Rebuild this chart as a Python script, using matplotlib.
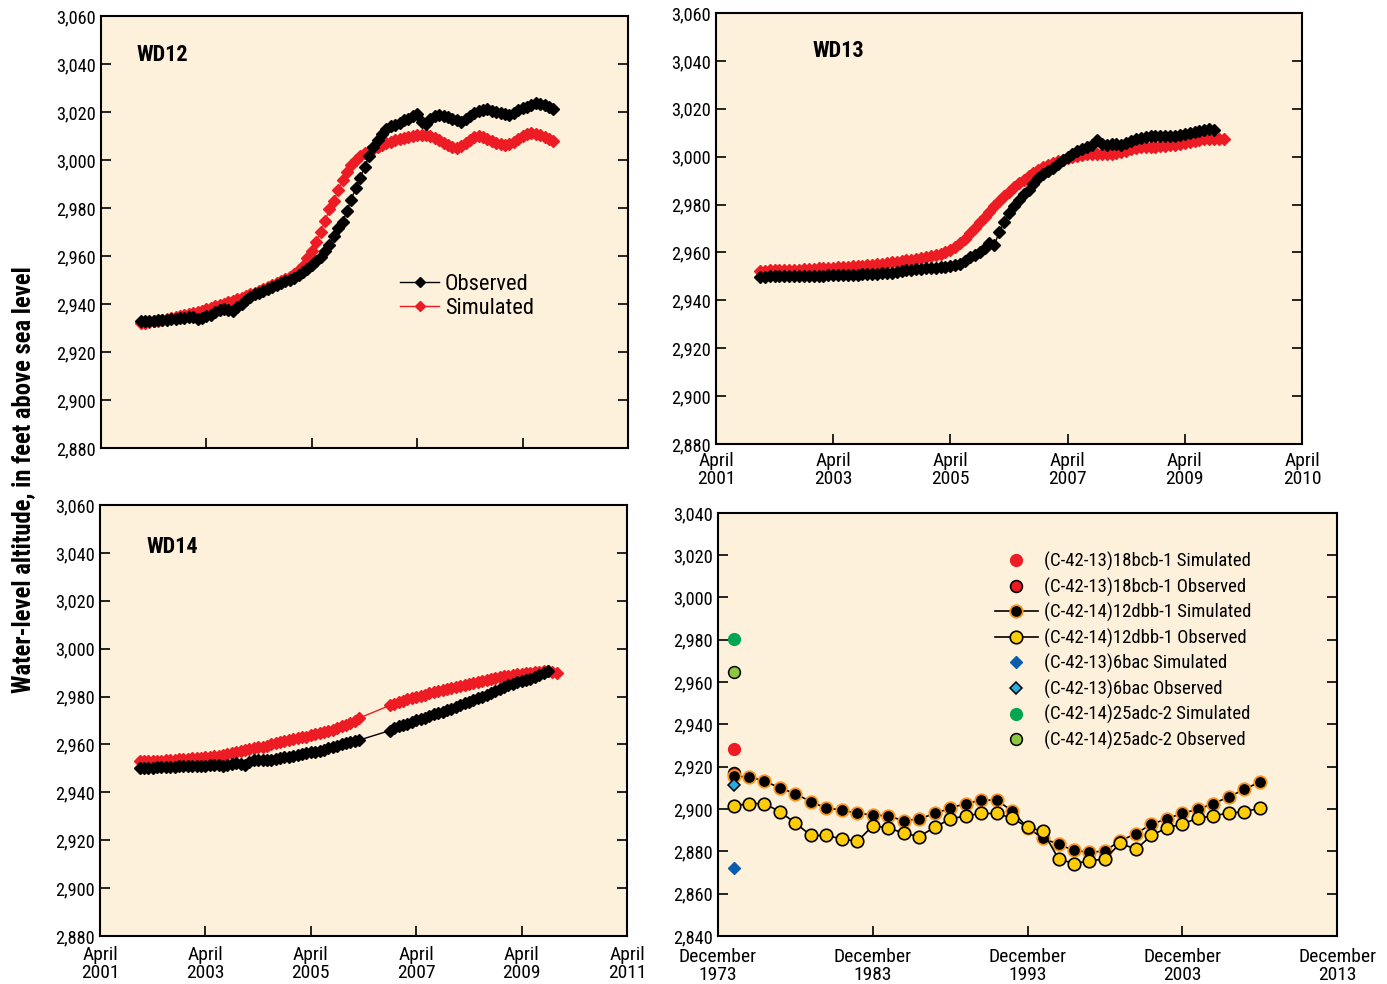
import matplotlib.pyplot as plt
from matplotlib import font_manager

# pick a narrow sans face if one is installed (the original uses a condensed face)
_names = sorted({f.name for f in font_manager.fontManager.ttflist})
_pref = ['Liberation Sans Narrow', 'Roboto Condensed', 'DejaVu Sans Condensed',
         'Open Sans Condensed', 'Noto Sans Condensed']
_narrow = [n for n in _pref if n in _names] + \
          [n for n in _names if ('Narrow' in n or 'Condensed' in n) and n not in _pref]
_cond_dejavu = any(f.name == 'DejaVu Sans' and str(f.stretch) in ('condensed', '500')
                   and 'Condensed' in f.fname for f in font_manager.fontManager.ttflist)
if _narrow:
    FONT = _narrow[0]
    SCALE = 1.0
elif _cond_dejavu:
    FONT = 'DejaVu Sans'
    plt.rcParams['font.stretch'] = 'condensed'
    SCALE = 0.92
else:
    FONT = 'Liberation Sans'
    SCALE = 0.9
plt.rcParams['font.family'] = [FONT, 'DejaVu Sans']

BG = '#fef1db'
RED = '#ed1c24'

# ---- data: monthly water levels, month 0 = January 2002 ----
wd12_obs = [2932.9, 2933.0, 2933.0, 2933.1, 2933.2, 2933.3, 2933.5, 2933.6, 2933.8, 2934.0,
            2934.3, 2934.6, 2934.4, 2933.8, 2934.2, 2935.0, 2935.6, 2936.8, 2937.6, 2937.8,
            2937.4, 2937.0, 2938.6, 2940.2, 2941.5, 2943.0, 2944.0, 2944.8, 2945.5, 2946.2,
            2947.0, 2948.0, 2948.8, 2949.6, 2950.2, 2951.0, 2952.2, 2953.4, 2954.8, 2956.2,
            2957.8, 2959.6, 2962.0, 2964.8, 2968.2, 2971.5, 2974.0, 2978.8, 2983.5, 2988.5,
            2992.5, 2997.0, 3001.5, 3005.5, 3008.5, 3011.0, 3012.8, 3014.0, 3014.8, 3015.6,
            3016.5, 3017.3, 3018.2, 3019.0, 3016.0, 3015.2, 3017.0, 3018.4, 3018.9, 3018.3,
            3017.9, 3017.2, 3016.5, 3015.9, 3017.0, 3018.5, 3019.6, 3020.4, 3021.0, 3021.3,
            3020.6, 3019.9, 3019.4, 3019.2, 3018.9, 3019.8, 3020.8, 3021.6, 3022.3, 3023.0,
            3023.6, 3023.2, 3022.8, 3022.0, 3021.4]
wd12_sim = [2931.9, 2932.2, 2932.5, 2932.8, 2933.1, 2933.4, 2933.7, 2934.1, 2934.5, 2934.9,
            2935.4, 2935.8, 2936.3, 2936.7, 2937.2, 2937.8, 2938.4, 2939.0, 2939.6, 2940.2,
            2940.8, 2941.4, 2942.0, 2942.6, 2943.3, 2944.0, 2944.8, 2945.6, 2946.4, 2947.2,
            2948.0, 2948.8, 2949.6, 2950.4, 2951.3, 2952.5, 2954.0, 2956.0, 2959.0, 2962.0,
            2966.0, 2970.0, 2974.5, 2979.5, 2983.0, 2987.5, 2991.5, 2995.0, 2998.0, 3000.0,
            3001.6, 3002.8, 3003.7, 3004.5, 3005.5, 3006.2, 3007.0, 3007.6, 3008.2, 3008.7,
            3009.1, 3009.5, 3009.9, 3010.4, 3010.5, 3010.3, 3010.0, 3009.2, 3008.2, 3007.2,
            3006.2, 3005.4, 3005.2, 3006.0, 3007.2, 3008.4, 3009.4, 3009.9, 3009.6, 3008.8,
            3008.0, 3007.2, 3006.6, 3006.2, 3006.6, 3007.6, 3008.8, 3010.0, 3010.8, 3011.2,
            3011.0, 3010.4, 3009.8, 3008.8, 3008.0]
wd12_months = list(range(95))

wd13_obs = [2949.6, 2949.8, 2950.0, 2950.0, 2950.0, 2950.0, 2950.0, 2950.1, 2950.1, 2950.1,
            2950.1, 2950.1, 2950.1, 2950.3, 2950.5, 2950.7, 2950.7, 2950.7, 2950.7, 2950.7,
            2950.7, 2950.8, 2950.8, 2950.8, 2951.0, 2951.2, 2951.3, 2951.6, 2952.0, 2952.4,
            2952.5, 2952.7, 2952.9, 2953.2, 2953.5, 2953.6, 2953.7, 2953.9, 2954.1, 2954.3,
            2954.6, 2955.2, 2956.5, 2958.0, 2959.0, 2960.0, 2962.0, 2964.0, 2963.0, 2968.5,
            2972.5, 2976.5, 2979.5, 2982.0, 2984.3, 2986.2, 2988.6, 2990.9, 2992.6, 2994.0,
            2995.3, 2996.8, 2998.5, 3000.0, 3001.3, 3002.3, 3003.2, 3004.0, 3004.8, 3006.8,
            3005.4, 3005.0, 3005.3, 3005.2, 3005.0, 3005.8, 3006.5, 3007.2, 3007.8, 3008.2,
            3008.5, 3008.6, 3008.6, 3008.5, 3008.6, 3008.8, 3009.0, 3009.3, 3009.8, 3010.4,
            3010.8, 3011.2, 3011.4, 3011.0]
wd13_obs_months = list(range(94))
wd13_sim = [2952.4, 2952.4, 2952.5, 2952.5, 2952.6, 2952.6, 2952.7, 2952.8, 2952.8, 2952.9,
            2953.0, 2953.2, 2953.3, 2953.4, 2953.5, 2953.7, 2953.8, 2953.9, 2954.0, 2954.2,
            2954.3, 2954.5, 2954.7, 2954.8, 2955.0, 2955.3, 2955.5, 2955.8, 2956.1, 2956.4,
            2956.7, 2957.0, 2957.4, 2957.7, 2958.0, 2958.3, 2958.8, 2959.4, 2960.2, 2961.0,
            2962.2, 2963.8, 2965.8, 2968.0, 2970.4, 2972.8, 2974.6, 2977.0, 2979.5, 2981.5,
            2983.7, 2985.4, 2987.3, 2989.0, 2990.4, 2991.8, 2993.0, 2994.3, 2995.6, 2996.6,
            2997.5, 2998.1, 2998.8, 2999.4, 2999.9, 3000.3, 3000.8, 3001.0, 3001.2, 3001.3,
            3001.3, 3001.3, 3001.3, 3001.5, 3001.9, 3002.3, 3003.0, 3003.7, 3004.0, 3004.0,
            3004.0, 3004.1, 3004.3, 3004.5, 3004.7, 3005.0, 3005.4, 3005.8, 3006.2, 3006.6,
            3006.9, 3007.2, 3007.3, 3007.4, 3007.5, 3007.5]
wd13_sim_months = list(range(96))

# WD14 has no readings for months 51-56
wd14_obs = [2950.2, 2950.2, 2950.3, 2950.3, 2950.4, 2950.4, 2950.5, 2950.5, 2950.7, 2950.8,
            2951.0, 2951.0, 2951.0, 2951.0, 2951.0, 2951.1, 2951.2, 2951.4, 2951.5, 2950.8,
            2951.4, 2952.0, 2952.1, 2952.0, 2951.6, 2952.8, 2953.3, 2953.3, 2953.3, 2953.3,
            2953.6, 2953.9, 2954.3, 2954.6, 2954.9, 2955.3, 2955.7, 2956.1, 2956.4, 2956.7,
            2957.0, 2957.3, 2957.8, 2958.4, 2959.0, 2959.5, 2960.1, 2960.7, 2961.2, 2961.6,
            2961.8,
            2965.8, 2966.7, 2967.5, 2968.1, 2968.7, 2969.4, 2970.0, 2970.6, 2971.2, 2971.9,
            2972.5, 2973.1, 2973.7, 2974.4, 2975.0, 2975.7, 2976.4, 2977.1, 2977.8, 2978.5,
            2979.2, 2979.9, 2980.7, 2981.6, 2982.4, 2983.3, 2984.0, 2984.7, 2985.4, 2986.0,
            2986.6, 2987.0, 2987.5, 2988.1, 2989.2, 2990.0, 2990.8]
wd14_obs_months = list(range(51)) + list(range(57, 94))
wd14_sim = [2953.0, 2953.0, 2953.1, 2953.1, 2953.2, 2953.2, 2953.3, 2953.4, 2953.6, 2953.8,
            2954.0, 2954.1, 2954.2, 2954.4, 2954.5, 2954.7, 2954.9, 2955.1, 2955.3, 2955.6,
            2956.0, 2956.4, 2956.8, 2957.2, 2957.6, 2958.0, 2958.4, 2958.8, 2959.1, 2959.5,
            2960.0, 2960.5, 2961.0, 2961.5, 2961.9, 2962.3, 2962.7, 2963.0, 2963.3, 2963.8,
            2964.2, 2964.6, 2965.1, 2965.6, 2966.2, 2966.8, 2967.5, 2968.2, 2969.0, 2969.8,
            2971.0,
            2976.3, 2977.0, 2977.6, 2978.2, 2978.8, 2979.3, 2979.8, 2980.3, 2980.8, 2981.3,
            2981.8, 2982.3, 2982.8, 2983.3, 2983.7, 2984.1, 2984.6, 2985.0, 2985.4, 2985.8,
            2986.2, 2986.6, 2987.0, 2987.4, 2987.8, 2988.1, 2988.4, 2988.7, 2989.0, 2989.3,
            2989.5, 2989.7, 2989.9, 2990.1, 2990.3, 2990.5, 2990.6, 2990.4, 2989.9]
wd14_sim_months = list(range(51)) + list(range(57, 96))

# ---- regional wells, December readings ----
reg_years = [1974, 1975, 1976, 1977, 1978, 1979, 1980, 1981, 1982, 1983, 1984, 1985,
             1986, 1987, 1988, 1989, 1990, 1991, 1992, 1993, 1994, 1995, 1996, 1997,
             1998, 1999, 2000, 2001, 2002, 2003, 2004, 2005, 2006, 2007, 2008]
dbb12_sim = [2915.5, 2915.2, 2913.2, 2910.0, 2907.2, 2903.5, 2900.4, 2899.6, 2897.9, 2897.3,
             2896.7, 2894.5, 2895.3, 2897.9, 2900.4, 2902.6, 2904.1, 2904.3, 2899.1, 2891.1,
             2886.2, 2883.3, 2880.5, 2879.5, 2880.2, 2885.1, 2888.3, 2892.9, 2895.3, 2898.1,
             2899.8, 2902.6, 2905.7, 2909.3, 2912.8]
dbb12_obs = [2901.5, 2902.6, 2902.6, 2898.7, 2893.4, 2887.5, 2887.5, 2885.9, 2884.7, 2892.1,
             2891.1, 2888.6, 2887.0, 2891.4, 2895.3, 2896.8, 2897.9, 2897.9, 2895.7, 2891.4,
             2889.5, 2876.4, 2874.2, 2875.5, 2876.4, 2883.9, 2880.9, 2887.5, 2891.1, 2892.9,
             2895.7, 2896.8, 2898.1, 2898.7, 2900.4]
bcb18_sim = [2928.4]
bcb18_obs = [2917.0]
bac6_sim = [2872.0]
bac6_obs = [2911.5]
adc25_sim = [2980.5]
adc25_obs = [2965.0]
single_year = [1974]


def dec_years(months, start=2002.0):
    return [start + m / 12.0 for m in months]


def decx(years):
    return [y + 11.0 / 12.0 for y in years]


def comma(v):
    return '{:,}'.format(v)


def fs(size):
    return size * SCALE


def style(ax, ymin, ymax):
    ax.set_facecolor(BG)
    ax.set_ylim(ymin, ymax)
    ticks = list(range(ymin, ymax + 1, 20))
    ax.set_yticks(ticks)
    ax.set_yticklabels([comma(t) for t in ticks])
    ax.tick_params(direction='in', length=7, width=1.2, labelsize=fs(13.2),
                   left=True, right=True, top=False, bottom=True, pad=4)
    for s in ax.spines.values():
        s.set_linewidth(1.5)


fig = plt.figure(figsize=(13.87, 9.84), dpi=100)

ax1 = fig.add_axes([0.0728, 0.5447, 0.380, 0.439])
ax2 = fig.add_axes([0.5162, 0.5488, 0.4225, 0.438])
ax3 = fig.add_axes([0.0721, 0.0488, 0.380, 0.438])
ax4 = fig.add_axes([0.5177, 0.0488, 0.4463, 0.430])

ap_ticks = [2001.25, 2003.25, 2005.25, 2007.25, 2009.25, 2011.25]
ap_labels = ['April\n2001', 'April\n2003', 'April\n2005', 'April\n2007', 'April\n2009', 'April\n2011']
ap_labels_wd13 = ['April\n2001', 'April\n2003', 'April\n2005', 'April\n2007', 'April\n2009', 'April\n2010']

mk = dict(marker='D', markersize=5.8, linewidth=1.0)

title_pos = {'WD12': (0.068, 0.91), 'WD13': (0.164, 0.912), 'WD14': (0.089, 0.903)}

for ax, name, om, ov, sm, sv in [
        (ax1, 'WD12', wd12_months, wd12_obs, wd12_months, wd12_sim),
        (ax2, 'WD13', wd13_obs_months, wd13_obs, wd13_sim_months, wd13_sim),
        (ax3, 'WD14', wd14_obs_months, wd14_obs, wd14_sim_months, wd14_sim)]:
    style(ax, 2880, 3060)
    ax.plot(dec_years(sm), sv, color=RED, markeredgecolor=RED, label='Simulated', zorder=2, **mk)
    ax.plot(dec_years(om), ov, color='black', markeredgecolor='black', label='Observed', zorder=3, **mk)
    ax.set_xlim(2001.25, 2011.25)
    ax.set_xticks(ap_ticks)
    tx, ty = title_pos[name]
    ax.text(tx, ty, name, transform=ax.transAxes, fontsize=fs(16), fontweight='bold', va='center')

ax1.set_xticklabels([])
ax2.set_xticklabels(ap_labels_wd13, fontsize=fs(14), linespacing=0.95)
ax3.set_xticklabels(ap_labels, fontsize=fs(14), linespacing=0.95)
ax2.tick_params(axis='x', pad=6)
ax3.tick_params(axis='x', pad=7.5)

h, l = ax1.get_legend_handles_labels()
ax1.legend(h[::-1], l[::-1], loc='upper left', bbox_to_anchor=(0.546, 0.43), frameon=False,
           fontsize=fs(16.2), handlelength=1.75, handletextpad=0.25, labelspacing=0.15,
           borderpad=0, markerscale=0.8)

# ---- regional panel ----
style(ax4, 2840, 3040)
ax4.set_xlim(1973 + 11 / 12, 2013 + 11 / 12)
ax4.set_xticks(decx([1973, 1983, 1993, 2003, 2013]))
ax4.set_xticklabels(['December\n1973', 'December\n1983', 'December\n1993',
                     'December\n2003', 'December\n2013'], fontsize=fs(14), linespacing=0.95)
ax4.tick_params(axis='x', pad=9)

sx = decx(single_year)
ax4.plot(sx, bcb18_sim, ls='none', marker='o', ms=8.5, mfc=RED, mec=RED,
         label='(C-42-13)18bcb-1 Simulated', zorder=3)
ax4.plot(sx, bcb18_obs, ls='none', marker='o', ms=8.5, mfc=RED, mec='black', mew=1.2,
         label='(C-42-13)18bcb-1 Observed', zorder=3)
ax4.plot(decx(reg_years), dbb12_sim, color='black', lw=1.2, marker='o', ms=9,
         mfc='black', mec='#f7941d', mew=1.3, label='(C-42-14)12dbb-1 Simulated', zorder=4)
ax4.plot(decx(reg_years), dbb12_obs, color='black', lw=1.2, marker='o', ms=9,
         mfc='#ffcc0a', mec='black', mew=1.2, label='(C-42-14)12dbb-1 Observed', zorder=4)
ax4.plot(sx, bac6_sim, ls='none', marker='D', ms=6.5, mfc='#0b5cad', mec='#0b5cad',
         label='(C-42-13)6bac Simulated', zorder=5)
ax4.plot(sx, bac6_obs, ls='none', marker='D', ms=6.5, mfc='#29abe2', mec='black', mew=1.1,
         label='(C-42-13)6bac Observed', zorder=5)
ax4.plot(sx, adc25_sim, ls='none', marker='o', ms=8.5, mfc='#00a651', mec='#00a651',
         label='(C-42-14)25adc-2 Simulated', zorder=3)
ax4.plot(sx, adc25_obs, ls='none', marker='o', ms=8.5, mfc='#8dc63f', mec='black', mew=1.1,
         label='(C-42-14)25adc-2 Observed', zorder=3)

ax4.legend(loc='upper left', bbox_to_anchor=(0.432, 0.93), frameon=False, fontsize=fs(13.5),
           handlelength=2.3, handletextpad=0.3, labelspacing=0.34, borderpad=0)

fig.text(0.017, 0.513, 'Water-level altitude, in feet above sea level', rotation=90,
         fontsize=fs(17.7), fontweight='bold', ha='center', va='center')

fig.savefig('out.png', dpi=100)
